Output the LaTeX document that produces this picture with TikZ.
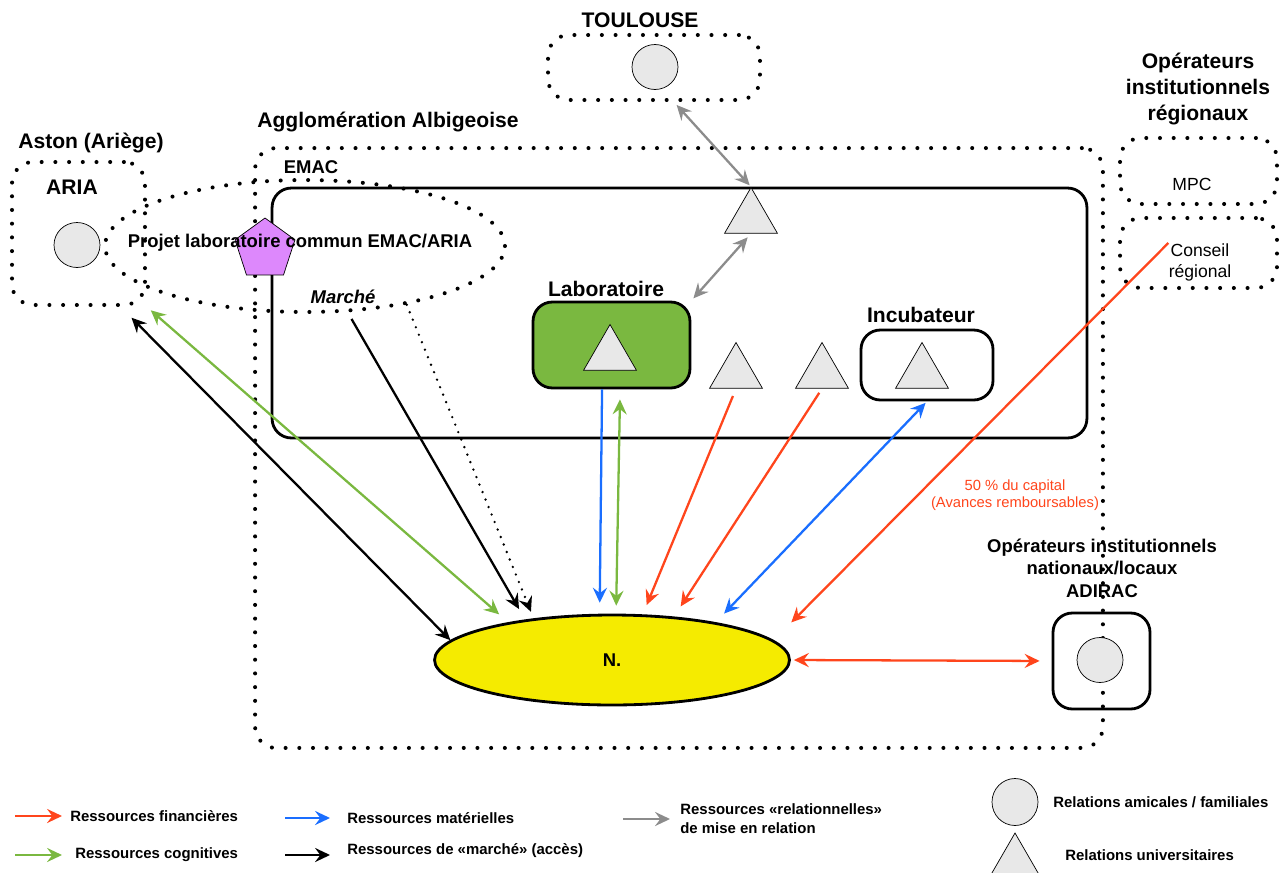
\documentclass[tikz,border=0pt]{standalone}
\usepackage{fontspec}
\setmainfont{Liberation Sans}
\usetikzlibrary{shapes.geometric,arrows.meta}

\definecolor{finred}{RGB}{255,69,28}
\definecolor{cogngreen}{RGB}{122,184,64}
\definecolor{matblue}{RGB}{26,110,255}
\definecolor{relgray}{RGB}{140,140,140}
\definecolor{labgreen}{RGB}{122,184,64}
\definecolor{nyellow}{RGB}{245,235,0}
\definecolor{projpurple}{RGB}{221,136,252}
\definecolor{lightfill}{RGB}{232,232,232}

\begin{document}
\begin{tikzpicture}[x=0.02cm, y=-0.02cm,
  >={Stealth[length=8.5pt,width=8pt,inset=3pt]},
  dotbox/.style={draw, line width=2.3pt, line cap=round, dash pattern=on 0pt off 7.8pt, rounded corners=12pt, inner sep=0pt},
  solidbox/.style={draw, line width=1.6pt, rounded corners=11pt, inner sep=0pt},
  tri/.style={regular polygon, regular polygon sides=3, draw, fill=lightfill, minimum size=1.22cm, inner sep=0pt},
  circ/.style={ellipse, draw, fill=lightfill, minimum width=0.92cm, minimum height=0.9cm, inner sep=0pt},
  lblbig/.style={font=\fontsize{12}{14.7}\selectfont\bfseries, align=center, inner sep=0pt},
  lblmid/.style={font=\fontsize{10.5}{12.8}\selectfont\bfseries, align=center, inner sep=0pt},
  lbltxt/.style={font=\fontsize{10}{12}\selectfont, align=center, inner sep=0pt},
  leg/.style={font=\fontsize{8.5}{10.8}\selectfont\bfseries, align=left, anchor=west, inner sep=0pt},
  arr/.style={->, line width=1.3pt},
  dbl/.style={<->, line width=1.3pt}
]
\useasboundingbox (0,0) rectangle (1284,872);

% zones
\node[dotbox, minimum width=16.96cm, minimum height=12cm] (agglo) at (679,448) {};
\node[dotbox, minimum width=4.24cm, minimum height=1.3cm] (toul) at (654,67.5) {};
\node[dotbox, minimum width=2.66cm, minimum height=2.86cm] (aria) at (78.5,233.5) {};
\node[dotbox, minimum width=3.14cm, minimum height=1.32cm] (mpc) at (1198.5,171) {};
\node[dotbox, minimum width=3.14cm, minimum height=1.4cm] (cr) at (1198.5,253) {};
\node[dotbox, ellipse, minimum width=8cm, minimum height=2.64cm] (proj) at (305,246) {};
\node[solidbox, minimum width=16.3cm, minimum height=5cm] (emac) at (679.5,313) {};

% boxes
\node[solidbox, fill=labgreen, minimum width=3.14cm, minimum height=1.72cm] (lab) at (611.5,345) {};
\node[solidbox, minimum width=2.64cm, minimum height=1.4cm] (incub) at (927,365) {};
\node[solidbox, minimum width=1.94cm, minimum height=1.92cm] (adirac) at (1101.5,661) {};
\node[ellipse, draw, line width=1.6pt, fill=nyellow, minimum width=7.1cm, minimum height=1.8cm,
  font=\fontsize{10.5}{12}\selectfont\bfseries] (n) at (612,660) {N.};
\node[regular polygon, regular polygon sides=5, draw, fill=projpurple, minimum size=1.26cm, inner sep=0pt] (pent) at (265,249.5) {};

% triangles and circles
\node[tri] (tuniv) at (751,218) {};
\node[tri] (tlab) at (610,355) {};
\node[tri] (ta) at (736,373) {};
\node[tri] (tb) at (822,373) {};
\node[tri] (tinc) at (922,373) {};
\node[circ] (ctoul) at (655,67) {};
\node[circ] (caria) at (77,245) {};
\node[circ] (cadirac) at (1100,660) {};

% labels
\node[lblbig] (ltoul) at (640,20) {TOULOUSE};
\node[lblbig] (lagglo) at (388,122) {Agglomération Albigeoise};
\node[lblbig] (laston) at (91,143) {Aston (Ariège)};
\node[lblbig] (laria) at (72,187) {ARIA};
\node[lblmid] (lemac) at (311,167) {EMAC};
\node[lblmid] (lproj) at (300,243) {Projet laboratoire commun EMAC/ARIA};
\node[lblmid, font=\fontsize{10.5}{12.8}\selectfont\bfseries\itshape] (marche) at (343,297) {Marché};
\node[lblbig] (llab) at (606,289) {Laboratoire};
\node[lblbig] (lincub) at (921,315) {Incubateur};
\node[lblbig] (lreg) at (1198,89) {Opérateurs\\institutionnels\\régionaux};
\node[lbltxt] (lmpc) at (1192,184) {MPC};
\node[lbltxt] (lcr) at (1200,262) {Conseil\\régional};
\node[lblmid] (lnat) at (1102,568) {Opérateurs institutionnels\\nationaux/locaux\\ADIRAC};
\node[font=\fontsize{8.4}{9.6}\selectfont, text=finred, align=center, inner sep=0pt] (lcap) at (1015,495) {50 \% du capital\\(Avances remboursables)};

% resources
\draw[dbl, relgray, shorten <=0.08cm, shorten >=0.04cm] (toul.-60) -- (tuniv.corner 1);
\draw[dbl, relgray, shorten <=0.1cm, shorten >=0.06cm] (tuniv.south) -- (lab.north east);
\draw[dbl, shorten <=0.3cm] (aria.-60) -- (n.173);
\draw[dbl, cogngreen, shorten <=0.1cm, shorten >=0.24cm] (aria.south east) -- (n.160);
\draw[arr, shorten <=0.34cm, shorten >=0.24cm] (marche.south) -- (n.155);
\draw[arr, line width=1.5pt, line cap=round, dash pattern=on 0pt off 4.6pt, shorten >=0.14cm] (proj.-30) -- (n.152);
\draw[arr, matblue, shorten >=0.22cm] (lab.-102) -- (n.105);
\draw[dbl, cogngreen, shorten <=0.2cm, shorten >=0.16cm] (lab.-79) -- (n.85);
\draw[arr, finred, shorten <=0.16cm, shorten >=0.2cm] (ta.south) -- (n.56);
\draw[arr, finred, shorten <=0.1cm, shorten >=0.24cm] (tb.south) -- (n.35);
\draw[dbl, matblue, shorten <=0.04cm, shorten >=0.24cm] (incub.south) -- (n.20);
\draw[arr, finred, shorten >=0.5cm] (lcr.north west) -- (n.7);
\draw[dbl, finred, shorten <=0.06cm, shorten >=0.24cm] (n.east) -- (adirac.west);

% legend
\node[leg] (lfin) at (70,816) {Ressources financières};
\draw[arr, finred] ([xshift=-1.1cm]lfin.west) -- ([xshift=-0.16cm]lfin.west);
\node[leg] (lcog) at (75,855) {Ressources cognitives};
\draw[arr, cogngreen] ([xshift=-1.2cm]lcog.west) -- ([xshift=-0.26cm]lcog.west);
\node[leg] (lmat) at (347,818) {Ressources matérielles};
\draw[arr, matblue] ([xshift=-1.24cm]lmat.west) -- ([xshift=-0.34cm]lmat.west);
\node[leg] (lmar) at (347,851) {Ressources de «marché» (accès)};
\draw[arr] ([xshift=-1.24cm,yshift=-0.08cm]lmar.west) -- ([xshift=-0.34cm,yshift=-0.08cm]lmar.west);
\node[leg] (lrel) at (680,819) {Ressources «relationnelles»\\de mise en relation};
\draw[arr, relgray] ([xshift=-1.14cm]lrel.west) -- ([xshift=-0.2cm]lrel.west);
\node[circ, minimum height=0.94cm] (cleg) at (1015,802) {};
\node[leg] (lami) at (1053,802) {Relations amicales / familiales};
\node[tri] (tleg) at (1015,863.5) {};
\node[leg] (luniv) at (1065,855) {Relations universitaires};
\end{tikzpicture}
\end{document}
